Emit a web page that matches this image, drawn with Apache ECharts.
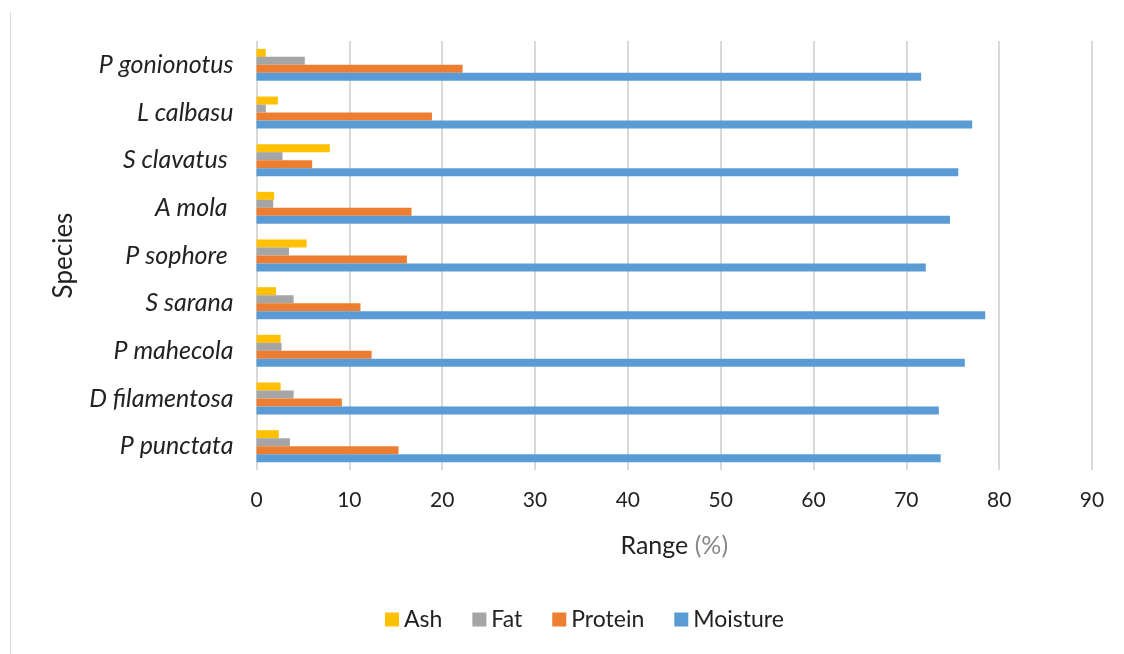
<!DOCTYPE html>
<html>
<head>
<meta charset="utf-8">
<script src="https://cdn.jsdelivr.net/npm/echarts@6/dist/echarts.min.js"></script>
<style>
  html, body { margin: 0; padding: 0; background: #fff; }
  #chart { width: 1124px; height: 654px; }
</style>
</head>
<body>
<div id="chart"></div>
<script>
// Species listed bottom to top along the category axis
const species = ['P punctata', 'D filamentosa', 'P mahecola', 'S sarana', 'P sophore ', 'A mola ', 'S clavatus ', 'L calbasu', 'P gonionotus'];

// Proximate composition (%) per species, same order as above
const ash      = [2.4, 2.6, 2.6, 2.1, 5.4, 1.9, 7.9, 2.3, 1.0];
const fat      = [3.6, 4.0, 2.7, 4.0, 3.5, 1.8, 2.8, 1.0, 5.2];
const protein  = [15.3, 9.2, 12.4, 11.2, 16.2, 16.7, 6.0, 18.9, 22.2];
const moisture = [73.7, 73.5, 76.3, 78.5, 72.1, 74.7, 75.6, 77.1, 71.6];

const xTicks = { min: 0, max: 90, interval: 10 };
const legendOrder = ['Ash', 'Fat', 'Protein', 'Moisture'];

const FONT = 'Lato, "Open Sans", sans-serif';

const chart = echarts.init(document.getElementById('chart'), null, { renderer: 'canvas' });

function barSeries(name, data, color) {
  return {
    name: name,
    type: 'bar',
    data: data,
    barGap: '0%',
    barCategoryGap: '33%',
    itemStyle: { color: color },
    emphasis: { disabled: true }
  };
}

chart.setOption({
  animation: false,
  backgroundColor: '#ffffff',
  textStyle: { fontFamily: FONT },
  graphic: [{
    type: 'line',
    shape: { x1: 10.5, y1: 12, x2: 10.5, y2: 654 },
    style: { stroke: '#d9d9d9', lineWidth: 1 }
  }],
  grid: { left: 256.5, right: 32, top: 41, bottom: 184, containLabel: false },
  legend: {
    data: legendOrder,
    bottom: 18,
    left: 380,
    itemWidth: 14,
    itemHeight: 14,
    itemGap: 30,
    icon: 'rect',
    textStyle: { fontSize: 23, color: '#222', fontFamily: FONT }
  },
  xAxis: {
    type: 'value',
    min: xTicks.min,
    max: xTicks.max,
    interval: xTicks.interval,
    name: 'Range {g|(%)}',
    nameLocation: 'middle',
    nameGap: 63,
    nameTextStyle: {
      fontSize: 25, color: '#222', fontFamily: FONT,
      rich: { g: { fontSize: 25, color: '#888', fontFamily: FONT } }
    },
    axisLine: { show: false },
    axisTick: { show: false },
    axisLabel: { fontSize: 21, color: '#222', margin: 20, fontFamily: FONT },
    splitLine: { show: true, lineStyle: { color: '#d9d9d9', width: 2 } }
  },
  yAxis: {
    type: 'category',
    data: species,
    name: 'Species',
    nameLocation: 'middle',
    nameGap: 180,
    nameTextStyle: { fontSize: 26, color: '#222', fontFamily: FONT },
    axisLine: { show: true, lineStyle: { color: '#d9d9d9', width: 1 } },
    axisTick: { show: false },
    axisLabel: { fontSize: 25, fontStyle: 'italic', color: '#222', margin: 23, fontFamily: FONT },
    splitLine: { show: false }
  },
  series: [
    barSeries('Ash', ash, '#ffc000'),
    barSeries('Fat', fat, '#a5a5a5'),
    barSeries('Protein', protein, '#ed7d31'),
    barSeries('Moisture', moisture, '#5b9bd5')
  ]
});
</script>
</body>
</html>
